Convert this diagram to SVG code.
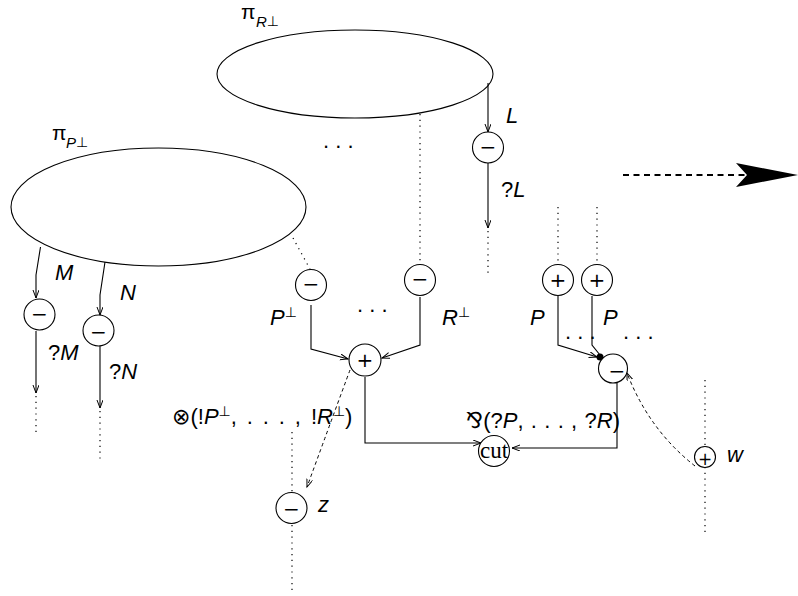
<svg xmlns="http://www.w3.org/2000/svg" width="798" height="596" viewBox="0 0 798 596">
<defs>
<style>
.e{fill:none;stroke:#000;stroke-width:1.1}
.n{fill:#fff;stroke:#000;stroke-width:1.1}
.s{fill:none;stroke:#000;stroke-width:1.1}
.d{fill:none;stroke:#000;stroke-width:1.2;stroke-dasharray:1.2,4.6}
.k{fill:none;stroke:#000;stroke-width:1;stroke-dasharray:3.5,3}
.t{font-family:"Liberation Sans","DejaVu Sans",Arial,sans-serif;font-size:22px;fill:#000}
.i{font-style:italic}
.sg{font-family:"DejaVu Sans","Liberation Sans",sans-serif;font-size:20px;fill:#000;text-anchor:middle}
.sm{font-size:15px}
.pr{font-family:"DejaVu Sans",sans-serif;font-size:14px}
</style>
<marker id="ar" markerWidth="10" markerHeight="8" refX="8" refY="3" orient="auto" markerUnits="userSpaceOnUse">
<path d="M0,0 L8,3 L0,6" fill="none" stroke="#000" stroke-width="1"/>
</marker>
</defs>

<g id="connectors">
<path class="s" d="M488,83 L488,132" marker-end="url(#ar)"/>
<path class="s" d="M488,163 L488,228" marker-end="url(#ar)"/>
<path class="d" d="M488,231 L488,276"/>
<path class="d" d="M420,114 L420,264"/>
<path class="s" d="M40.5,247 L36,275 L36,298" marker-end="url(#ar)"/>
<path class="s" d="M36,331 L36,393" marker-end="url(#ar)"/>
<path class="d" d="M36,396 L36,433"/>
<path class="s" d="M105,262 L100,295 L100,315" marker-end="url(#ar)"/>
<path class="s" d="M100,346 L100,408" marker-end="url(#ar)"/>
<path class="d" d="M100,411 L100,463"/>
<path class="d" d="M293,238 L310,269"/>
<path class="s" d="M311,305 L311,349 L348,359" marker-end="url(#ar)"/>
<path class="s" d="M420,297 L420,345 L382,358" marker-end="url(#ar)"/>
<path class="s" d="M365,377 L365,443 L481,443" marker-end="url(#ar)"/>
<path class="s" d="M617,383 L617,448 L512,448" marker-end="url(#ar)"/>
<path class="s" d="M558,296 L558,345 L597,357" marker-end="url(#ar)"/>
<path class="s" d="M592,296 L592,345 L600,355"/>
<circle cx="600" cy="357" r="3.5" fill="#000"/>
<path class="d" d="M558,207 L558,264"/>
<path class="d" d="M597,207 L597,264"/>
<path class="d" d="M292,432 L292,492"/>
<path class="d" d="M292,525 L292,594"/>
<path class="k" d="M350,370 Q337,405 307,487" marker-end="url(#ar)"/>
<path class="k" d="M695,466 Q649,430 627,373" marker-end="url(#ar)"/>
<path class="d" d="M705,380 L705,536"/>
<path d="M623,175 L760,175" fill="none" stroke="#000" stroke-width="2" stroke-dasharray="6,4.5"/>
<path d="M798,175 L736,163 L747,175 L736,187 Z" fill="#000"/>
</g>

<g id="proof-R">
<ellipse class="e" cx="355" cy="74" rx="138" ry="44"/>
<text class="t" x="241" y="19" style="font-size:21px">π<tspan class="i sm" x="256" y="27">R</tspan><tspan class="pr" y="26">⊥</tspan></text>
</g>
<g id="proof-P">
<ellipse class="e" cx="158.5" cy="207" rx="147.5" ry="59"/>
<text class="t" x="52" y="140" style="font-size:21px">π<tspan class="i sm" x="66" y="148">P</tspan><tspan class="pr" y="147">⊥</tspan></text>
</g>

<text class="t" x="323" y="148">. . .</text>
<text class="t" x="357" y="312">. . .</text>
<text class="t" x="565" y="339">. . .</text>
<text class="t" x="623" y="339">. . .</text>

<g id="node-L">
<circle class="n" cx="488" cy="147.5" r="15.5"/>
<text class="sg" x="488" y="154">−</text>
<text class="t i" x="506" y="123">L</text>
<text class="t" x="501" y="197">?<tspan class="i">L</tspan></text>
</g>
<g id="node-M">
<circle class="n" cx="39.5" cy="314.5" r="15.5"/>
<text class="sg" x="39.5" y="321">−</text>
<text class="t i" x="55" y="280">M</text>
<text class="t" x="48" y="360">?<tspan class="i">M</tspan></text>
</g>
<g id="node-N">
<circle class="n" cx="98.5" cy="330.5" r="15.5"/>
<text class="sg" x="98.5" y="339">−</text>
<text class="t i" x="120" y="300">N</text>
<text class="t" x="109" y="379">?<tspan class="i">N</tspan></text>
</g>
<g id="node-Pperp">
<circle class="n" cx="311" cy="285" r="15.5"/>
<text class="sg" x="311" y="291">−</text>
<text class="t" x="270" y="325"><tspan class="i">P</tspan><tspan class="pr" dy="-8">⊥</tspan></text>
</g>
<g id="node-Rperp">
<circle class="n" cx="420" cy="280" r="15.5"/>
<text class="sg" x="420" y="286">−</text>
<text class="t" x="442" y="325"><tspan class="i">R</tspan><tspan class="pr" dy="-8">⊥</tspan></text>
</g>
<g id="node-tensor">
<circle class="n" cx="365" cy="360" r="16"/>
<text class="sg" x="365" y="367">+</text>
<text class="t" x="172" y="424">⊗(!<tspan class="i">P</tspan><tspan class="pr" dy="-8">⊥</tspan><tspan dy="8" letter-spacing="1.9">, . . . , </tspan>!<tspan class="i">R</tspan><tspan class="pr" dy="-8">⊥</tspan><tspan dy="8">)</tspan></text>
</g>
<g id="node-P1">
<circle class="n" cx="558" cy="280" r="15.5"/>
<text class="sg" x="558" y="287">+</text>
<text class="t i" x="530" y="325">P</text>
</g>
<g id="node-P2">
<circle class="n" cx="597" cy="280" r="15.5"/>
<text class="sg" x="597" y="287">+</text>
<text class="t i" x="603" y="325">P</text>
</g>
<g id="node-par">
<circle class="n" cx="613" cy="368.5" r="14.5"/>
<text class="sg" x="617" y="378">−</text>
<text class="t" x="466" y="428">⅋(?<tspan class="i">P</tspan><tspan letter-spacing="0.6">, . . . , </tspan>?<tspan class="i">R</tspan>)</text>
</g>
<g id="node-cut">
<circle class="n" cx="494" cy="451" r="15.5"/>
<text x="494" y="458" text-anchor="middle" style="font-family:'Liberation Serif','Times New Roman',serif;font-size:23px">cut</text>
</g>
<g id="node-z">
<circle class="n" cx="291.5" cy="508" r="15.5"/>
<text class="sg" x="291.5" y="516">−</text>
<text class="t i" x="318" y="512">z</text>
</g>
<g id="node-w">
<circle class="n" cx="705" cy="457" r="10.5"/>
<text class="sg" x="705" y="465" style="font-size:17px">+</text>
<text class="t i" x="727" y="462">w</text>
</g>
</svg>
